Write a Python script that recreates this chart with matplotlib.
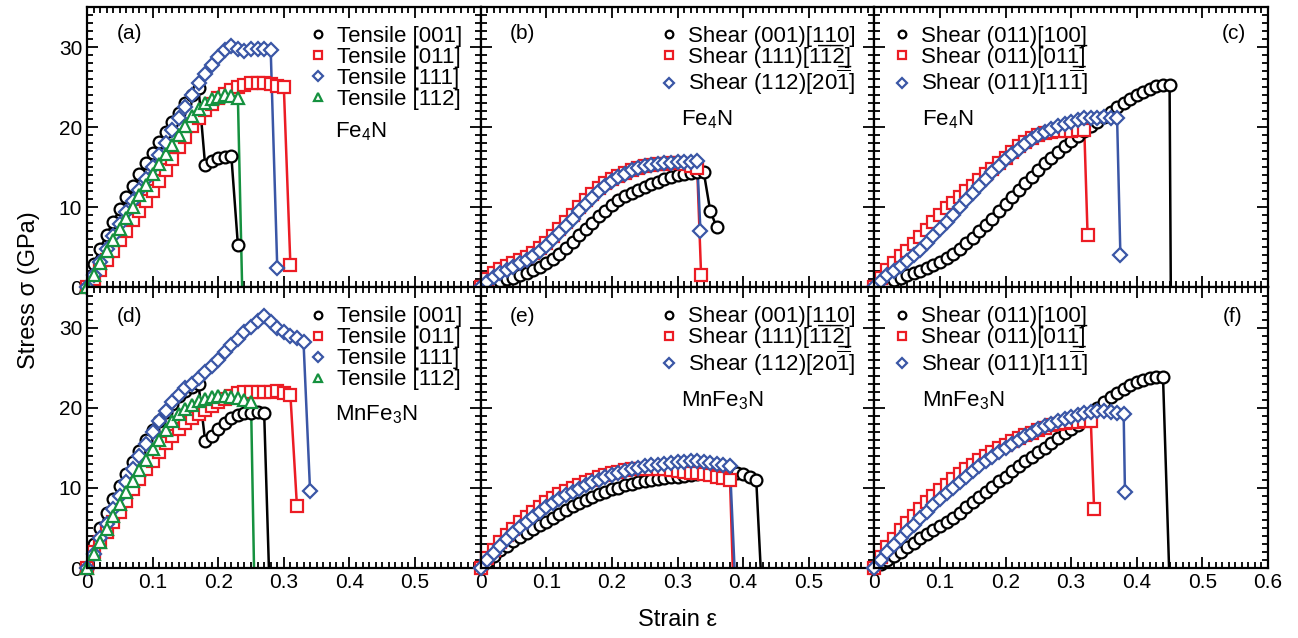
import numpy as np
import matplotlib.pyplot as plt
from matplotlib.ticker import MultipleLocator, FuncFormatter

plt.rcParams['font.family'] = ['Liberation Sans', 'DejaVu Sans']
plt.rcParams['mathtext.fontset'] = 'custom'
plt.rcParams['mathtext.rm'] = 'Liberation Sans'
plt.rcParams['mathtext.it'] = 'Liberation Sans:italic'

STEP = 0.01   # strain step of the calculations

# stress (GPa) on strain grid 0, 0.01, 0.02 ...; last point may sit off the grid
# (a) Fe4N, tensile
a_001 = [0, 2.9, 4.8, 6.6, 8.2, 9.8, 11.3, 12.7, 14.1, 15.5, 16.8, 18.1, 19.4, 20.6, 21.8,
         23.0, 24.0, 24.9, 15.3, 15.8, 16.1, 16.3, 16.4, 5.3]
a_011 = [0, 1.1, 2.2, 3.4, 4.6, 5.9, 7.1, 8.4, 9.6, 10.8, 12.0, 13.3, 14.7, 16.0, 17.5, 18.8,
         20.1, 21.1, 22.1, 22.9, 23.6, 24.2, 24.7, 25.0, 25.3, 25.5, 25.5, 25.5, 25.4, 25.2,
         25.0, 2.8]
a_111 = [0, 1.6, 3.2, 4.8, 6.4, 7.9, 9.4, 10.8, 12.2, 13.6, 15.0, 16.5, 18.0, 19.6, 21.1,
         22.5, 24.0, 25.5, 26.7, 27.8, 28.8, 29.6, 30.1, 29.7, 29.5, 29.7, 29.8, 29.7, 29.6, 2.4]
a_112 = [0, 1.5, 3.0, 4.5, 5.9, 7.3, 8.7, 10.1, 11.5, 12.8, 14.1, 15.4, 16.6, 17.8, 19.0,
         20.2, 21.4, 22.3, 23.0, 23.5, 23.8, 24.0, 23.9, 23.6]
a_112_end = (0.237, -2)

# (b) Fe4N, shear
b_001 = [0, 0.3, 0.6, 0.8, 1.0, 1.2, 1.5, 1.8, 2.2, 2.6, 3.1, 3.6, 4.2, 4.9, 5.7, 6.5, 7.3,
         8.1, 8.9, 9.6, 10.3, 10.9, 11.4, 11.8, 12.2, 12.6, 12.9, 13.2, 13.5, 13.8, 14.0,
         14.2, 14.3, 14.4, 14.4, 9.5, 7.5]
b_111 = [0, 1.0, 1.8, 2.3, 2.7, 3.0, 3.4, 3.8, 4.3, 4.9, 5.6, 6.4, 7.3, 8.2, 9.1, 10.0,
         10.9, 11.7, 12.4, 13.0, 13.5, 13.9, 14.3, 14.6, 14.9, 15.1, 15.3, 15.4, 15.4, 15.5,
         15.5, 15.4, 15.2, 14.9]
b_111_end = (0.336, 1.5)
b_112 = [0, 0.7, 1.3, 1.8, 2.2, 2.6, 3.0, 3.4, 3.9, 4.5, 5.2, 6.0, 6.8, 7.7, 8.6, 9.5,
         10.4, 11.2, 12.0, 12.7, 13.3, 13.8, 14.2, 14.6, 14.9, 15.1, 15.3, 15.4, 15.5, 15.5,
         15.6, 15.6, 15.7, 15.8]
b_112_end = (0.335, 7.0)

# (c) Fe4N, shear on (011)
c_100 = [0, 0.3, 0.6, 0.9, 1.2, 1.5, 1.8, 2.1, 2.4, 2.8, 3.2, 3.7, 4.2, 4.8, 5.5, 6.2,
         7.0, 7.8, 8.6, 9.5, 10.4, 11.3, 12.2, 13.0, 13.8, 14.7, 15.5, 16.2, 16.9, 17.6,
         18.3, 18.9, 19.5, 20.1, 20.7, 21.3, 21.9, 22.5, 23.0, 23.5, 24.0, 24.4, 24.8,
         25.1, 25.3, 25.3]
c_100_end = (0.452, -2)
c_011 = [0, 1.2, 2.2, 3.1, 3.9, 4.6, 5.4, 6.3, 7.2, 8.2, 9.1, 9.9, 10.6, 11.3, 12.0, 12.7,
         13.4, 14.1, 14.8, 15.5, 16.2, 16.9, 17.6, 18.1, 18.6, 19.0, 19.3, 19.4, 19.5, 19.5,
         19.5, 19.6, 19.7]
c_011_end = (0.325, 6.6)
c_111 = [0, 0.8, 1.5, 2.1, 2.7, 3.3, 4.0, 4.7, 5.5, 6.4, 7.3, 8.2, 9.1, 10.0, 10.9, 11.8,
         12.7, 13.6, 14.4, 15.2, 16.0, 16.7, 17.3, 17.9, 18.5, 19.0, 19.4, 19.8, 20.1, 20.4,
         20.7, 20.9, 21.1, 21.2, 21.2, 21.3, 21.2, 21.1]
c_111_end = (0.375, 4.1)

# (d) MnFe3N, tensile
d_001 = [0, 3.0, 5.0, 6.9, 8.6, 10.2, 11.7, 13.2, 14.6, 16.0, 17.2, 18.4, 19.5, 20.5, 21.4,
         22.1, 22.6, 22.9, 15.9, 16.5, 17.3, 18.1, 18.7, 19.1, 19.3, 19.4, 19.5, 19.4]
d_001_end = (0.278, -2)
d_011 = [0, 2.0, 3.3, 4.5, 5.7, 7.0, 8.4, 9.8, 11.1, 12.3, 13.4, 14.5, 15.6, 16.5, 17.4,
         18.1, 18.7, 19.2, 19.7, 20.2, 20.7, 21.1, 21.5, 21.8, 22.0, 22.0, 22.0, 21.9, 22.0,
         22.1, 21.8, 21.6, 7.7]
d_111 = [0, 1.8, 3.7, 5.5, 7.3, 9.0, 10.7, 12.3, 14.0, 15.5, 17.0, 18.4, 19.6, 20.7, 21.6,
         22.4, 23.0, 23.7, 24.5, 25.2, 26.0, 26.9, 27.8, 28.6, 29.4, 30.1, 30.8, 31.5, 30.7,
         30.0, 29.5, 29.0, 28.7, 28.2, 9.6]
d_112 = [0, 1.7, 3.3, 4.9, 6.5, 8.0, 9.5, 10.9, 12.2, 13.5, 14.8, 16.0, 17.2, 18.3, 19.2,
         19.9, 20.4, 20.8, 21.1, 21.3, 21.4, 21.4, 21.3, 21.2, 21.0, 20.7]
d_112_end = (0.255, -2)

# (e) MnFe3N, shear
e_001 = [0, 0.8, 1.5, 2.2, 2.8, 3.4, 3.9, 4.4, 4.9, 5.4, 5.8, 6.3, 6.8, 7.2, 7.7, 8.1, 8.5,
         8.9, 9.2, 9.5, 9.8, 10.0, 10.3, 10.5, 10.7, 10.9, 11.0, 11.1, 11.2, 11.3, 11.4, 11.5,
         11.6, 11.7, 11.8, 11.8, 11.9, 11.9, 12.0, 11.9, 11.7, 11.4, 11.0]
e_001_end = (0.428, -2)
e_111 = [0, 1.2, 2.2, 3.2, 4.1, 4.9, 5.7, 6.4, 7.0, 7.6, 8.2, 8.7, 9.2, 9.6, 10.0, 10.4,
         10.7, 11.0, 11.3, 11.6, 11.8, 12.0, 12.2, 12.3, 12.4, 12.4, 12.4, 12.3, 12.3, 12.2,
         12.1, 12.0, 11.9, 11.8, 11.7, 11.6, 11.4, 11.2, 11.0]
e_111_end = (0.385, -2)
e_112 = [0, 1.0, 1.9, 2.8, 3.6, 4.4, 5.1, 5.8, 6.4, 7.0, 7.6, 8.1, 8.6, 9.1, 9.5, 9.9,
         10.3, 10.7, 11.0, 11.3, 11.6, 11.9, 12.1, 12.3, 12.5, 12.7, 12.8, 12.9, 13.0, 13.1,
         13.2, 13.2, 13.3, 13.3, 13.2, 13.1, 13.0, 12.9, 12.7]
e_112_end = (0.388, -2)

# (f) MnFe3N, shear on (011)
f_100 = [0, 0.5, 1.0, 1.5, 2.0, 2.6, 3.1, 3.7, 4.2, 4.7, 5.2, 5.7, 6.3, 6.9, 7.6, 8.2, 8.9,
         9.5, 10.1, 10.8, 11.4, 12.1, 12.7, 13.3, 13.9, 14.5, 15.0, 15.6, 16.2, 16.8, 17.3,
         17.9, 18.5, 19.2, 20.0, 20.7, 21.3, 21.8, 22.3, 22.8, 23.2, 23.5, 23.7, 23.8, 23.8]
f_100_end = (0.45, -2)
f_011 = [0, 1.4, 2.6, 3.6, 4.7, 5.6, 6.5, 7.4, 8.2, 9.0, 9.7, 10.4, 11.1, 11.7, 12.3, 12.9,
         13.5, 14.0, 14.5, 15.0, 15.4, 15.8, 16.2, 16.6, 16.9, 17.2, 17.5, 17.8, 18.0, 18.1,
         18.2, 18.2, 18.3, 18.3]
f_011_end = (0.335, 7.3)
f_111 = [0, 1.0, 2.0, 2.9, 3.8, 4.6, 5.4, 6.2, 7.0, 7.8, 8.6, 9.3, 10.0, 10.7, 11.4, 12.1,
         12.7, 13.3, 13.9, 14.5, 15.0, 15.5, 16.0, 16.5, 16.9, 17.3, 17.7, 18.0, 18.3, 18.6,
         18.9, 19.1, 19.3, 19.5, 19.6, 19.6, 19.5, 19.4, 19.2]
f_111_end = (0.382, 9.5)

# underlines as combining low lines, overlines through mathtext
tensile_labels = ['Tensile [001]', 'Tensile [011]', 'Tensile [111]', 'Tensile [112]']
shear_labels_b = ['Shear (001)[1\u03321\u03320]', 'Shear (111)[112\u0332]',
                  r'Shear (112)[20$\overline{1}$]']
shear_labels_c = ['Shear (011)[100\u0332]', 'Shear (011)[011\u0332]',
                  r'Shear (011)[11$\overline{1}$]']

BLACK, RED, BLUE, GREEN = '#000000', '#ec1c24', '#3a56a6', '#15913f'
styles = [(BLACK, 'o'), (RED, 's'), (BLUE, 'D'), (GREEN, '^')]


def curve(stress, end=None):
    eps = list(np.arange(len(stress)) * STEP)
    sig = list(stress)
    if end is not None:
        eps.append(end[0])
        sig.append(end[1])
    return np.array(eps), np.array(sig)


panels = [
    ('(a)', 'Fe$_4$N', tensile_labels,
     [curve(a_001), curve(a_011), curve(a_111), curve(a_112, a_112_end)]),
    ('(b)', 'Fe$_4$N', shear_labels_b,
     [curve(b_001), curve(b_111, b_111_end), curve(b_112, b_112_end)]),
    ('(c)', 'Fe$_4$N', shear_labels_c,
     [curve(c_100, c_100_end), curve(c_011, c_011_end), curve(c_111, c_111_end)]),
    ('(d)', 'MnFe$_3$N', tensile_labels,
     [curve(d_001, d_001_end), curve(d_011), curve(d_111), curve(d_112, d_112_end)]),
    ('(e)', 'MnFe$_3$N', shear_labels_b,
     [curve(e_001, e_001_end), curve(e_111, e_111_end), curve(e_112, e_112_end)]),
    ('(f)', 'MnFe$_3$N', shear_labels_c,
     [curve(f_100, f_100_end), curve(f_011, f_011_end), curve(f_111, f_111_end)]),
]

# text positions in axes coords: panel tag, material label, legend corner
tag_pos = [(0.075, 0.905, 'left'), (0.075, 0.905, 'left'), (0.945, 0.905, 'right'),
           (0.075, 0.895, 'left'), (0.075, 0.895, 'left'), (0.935, 0.895, 'right')]
mat_pos = [(0.63, 0.555), (0.509, 0.600), (0.122, 0.600),
           (0.63, 0.546), (0.509, 0.595), (0.122, 0.595)]
leg_loc = ['upper right', 'upper right', 'upper left',
           'upper right', 'upper right', 'upper left']

fig, axes = plt.subplots(2, 3, figsize=(12.98, 6.38), dpi=100)
fig.subplots_adjust(left=87 / 1298, right=1268 / 1298, bottom=1 - 568 / 638,
                    top=1 - 7 / 638, wspace=0, hspace=0)

for k, (ax, (tag, mat, labels, data)) in enumerate(zip(axes.flat, panels)):
    for (eps, sig), (col, mk), lab in zip(data, styles, labels):
        ax.plot(eps, sig, color=col, lw=1.8, zorder=2)
        keep = sig >= 0
        ax.plot(eps[keep], sig[keep], ls='none', marker=mk, ms=8.5 if mk != 'D' else 7.5,
                mfc='white', mec=col, mew=1.6, clip_on=False, zorder=3, label=lab)

    ax.set_xlim(0, 0.6)
    ax.set_ylim(0, 35)
    ax.xaxis.set_major_locator(MultipleLocator(0.1))
    ax.xaxis.set_minor_locator(MultipleLocator(0.01))
    ax.yaxis.set_major_locator(MultipleLocator(10))
    ax.yaxis.set_minor_locator(MultipleLocator(1))
    ax.tick_params(which='both', direction='in', top=True, right=True, labelsize=15, width=1.3)
    ax.tick_params(which='major', length=8)
    ax.tick_params(which='minor', length=4)
    for sp in ax.spines.values():
        sp.set_linewidth(1.6)
        sp.set_zorder(5)

    row, col_i = divmod(k, 3)
    if row == 0:
        ax.tick_params(labelbottom=False)
    else:
        last = col_i == 2
        ax.xaxis.set_major_formatter(FuncFormatter(
            lambda v, p, last=last: '' if (v > 0.55 and not last) else ('0' if abs(v) < 1e-9 else f'{v:.1f}')))
    if col_i > 0:
        ax.tick_params(labelleft=False)

    tx, ty, ha = tag_pos[k]
    ax.text(tx, ty, tag, transform=ax.transAxes, ha=ha, va='center', fontsize=15)
    mx, my = mat_pos[k]
    ax.text(mx, my, mat, transform=ax.transAxes, ha='left', va='center', fontsize=16)

    ax.legend(loc=leg_loc[k], frameon=False, fontsize=16, handlelength=0.8,
              handletextpad=0.45, labelspacing=0.0, borderaxespad=0.55,
              borderpad=0.3, markerscale=0.65)

fig.text(0.022, 0.545, 'Stress \u03c3 (GPa)', rotation=90, ha='center', va='center', fontsize=17)
fig.text(0.522, 0.028, 'Strain \u03b5', ha='center', va='center', fontsize=17)

fig.savefig('out.png', dpi=100)
